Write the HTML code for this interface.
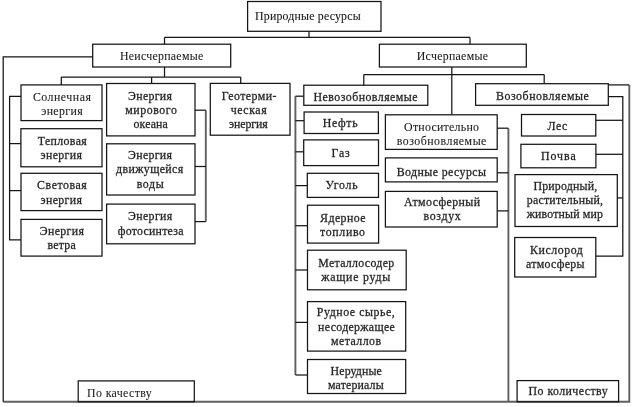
<!DOCTYPE html><html><head><meta charset="utf-8"><style>html,body{margin:0;padding:0;background:#fff;}svg{display:block;filter:blur(0.35px);}text{font-family:"Liberation Serif",serif;fill:#151515;}</style></head><body>
<svg width="636" height="407" viewBox="0 0 636 407">
<rect x="0" y="0" width="636" height="407" fill="#fff"/>
<g fill="none" stroke="#606060" stroke-width="1.9">
<polyline points="3.2,401.8 629.3,401.8 629.3,84.9"/>
<polyline points="295.4,96.2 295.4,375"/>
<polyline points="508.4,128.2 508.4,401.8"/>
<polyline points="205.8,110.2 205.8,221.6"/>
</g>
<g fill="none" stroke="#151515" stroke-width="1.25" stroke-linejoin="miter">
<polyline points="164.5,37.4 470,37.4"/>
<polyline points="309,31.3 309,37.4"/>
<polyline points="164.5,37.4 164.5,44.2"/>
<polyline points="470,37.4 470,44.3"/>
<polyline points="92.7,56.9 3.2,56.9 3.2,401.8"/>
<polyline points="629.3,84.9 608.3,84.9"/>
<polyline points="164.5,67 164.5,77"/>
<polyline points="61.3,77 240.7,77"/>
<polyline points="61.3,77 61.3,84.9"/>
<polyline points="151.6,77 151.6,83.5"/>
<polyline points="240.7,77 240.7,83.4"/>
<polyline points="21,96.4 9.6,96.4 9.6,239.8 21,239.8"/>
<polyline points="9.6,143.6 20.9,143.6"/>
<polyline points="9.6,190.6 21,190.6"/>
<polyline points="195,110.2 205.8,110.2"/>
<polyline points="205.8,221.6 195,221.6"/>
<polyline points="195,166.5 205.8,166.5"/>
<polyline points="451.8,67 451.8,114.8"/>
<polyline points="363.8,74.6 544.2,74.6"/>
<polyline points="363.8,74.6 363.8,85.3"/>
<polyline points="544.2,74.6 544.2,83.8"/>
<polyline points="303.8,96.2 295.4,96.2"/>
<polyline points="295.4,375 307.5,375"/>
<polyline points="295.4,120.7 304.1,120.7"/>
<polyline points="295.4,151.8 303.7,151.8"/>
<polyline points="295.4,185.6 307.3,185.6"/>
<polyline points="295.4,225.7 307.5,225.7"/>
<polyline points="295.4,270 307.5,270"/>
<polyline points="295.4,322.4 307.5,322.4"/>
<polyline points="497.2,128.2 508.4,128.2"/>
<polyline points="497.2,172.8 508.4,172.8"/>
<polyline points="497.2,210.9 508.4,210.9"/>
<polyline points="608.3,96.5 622.8,96.5 622.8,256 595.8,256"/>
<polyline points="595.8,120.3 622.8,120.3"/>
<polyline points="595.9,154.3 622.8,154.3"/>
<polyline points="617.3,197.9 622.8,197.9"/>
<rect x="247.6" y="1.5" width="133.40" height="29.80"/>
<rect x="92.7" y="44.2" width="138.00" height="22.80"/>
<rect x="379.4" y="44.2" width="146.90" height="22.80"/>
<rect x="21" y="84.9" width="81.00" height="35.70"/>
<rect x="20.9" y="128.7" width="81.10" height="38.10"/>
<rect x="21" y="173.3" width="81.00" height="37.30"/>
<rect x="21" y="219.4" width="81.00" height="36.70"/>
<rect x="106.6" y="83.5" width="88.40" height="52.40"/>
<rect x="106.6" y="143.8" width="88.40" height="51.20"/>
<rect x="106.6" y="204.1" width="88.40" height="39.70"/>
<rect x="210.3" y="83.4" width="79.70" height="51.80"/>
<rect x="303.8" y="85.2" width="124.00" height="20.10"/>
<rect x="304.1" y="112" width="74.30" height="21.50"/>
<rect x="303.7" y="139.9" width="74.80" height="25.70"/>
<rect x="307.3" y="173.3" width="71.20" height="24.10"/>
<rect x="307.5" y="205.2" width="71.10" height="37.90"/>
<rect x="307.5" y="250.2" width="98.70" height="39.60"/>
<rect x="307.5" y="301.6" width="98.20" height="49.50"/>
<rect x="307.5" y="359.5" width="98.20" height="34.00"/>
<rect x="385.4" y="114.8" width="111.80" height="34.60"/>
<rect x="385.4" y="157.9" width="111.80" height="24.00"/>
<rect x="385.4" y="191.4" width="111.80" height="35.60"/>
<rect x="475.6" y="83.7" width="132.70" height="21.60"/>
<rect x="521.5" y="114.5" width="74.30" height="21.50"/>
<rect x="520.9" y="144.3" width="75.00" height="23.50"/>
<rect x="515" y="174.6" width="102.30" height="51.90"/>
<rect x="514.7" y="237.5" width="81.10" height="39.50"/>
<rect x="78.2" y="380.9" width="116.10" height="20.90"/>
<rect x="517.1" y="380.6" width="101.50" height="21.20"/>
</g>
<g font-size="13.2" text-anchor="middle" stroke="#333" stroke-width="0.3">
<text transform="translate(307.85,19.7) scale(0.9,1)" textLength="117.44" lengthAdjust="spacing" stroke-width="0.12">Природные ресурсы</text>
<text transform="translate(161.60,60) scale(0.9,1)" textLength="92.44" lengthAdjust="spacing" stroke-width="0.08">Неисчерпаемые</text>
<text transform="translate(452.35,60) scale(0.9,1)" textLength="79.22" lengthAdjust="spacing" stroke-width="0.08">Исчерпаемые</text>
<text transform="translate(61.90,100.7) scale(0.9,1)" textLength="64.44" lengthAdjust="spacing" stroke-width="0.1">Солнечная</text>
<text transform="translate(61.90,114.5) scale(0.9,1)" textLength="46.00" lengthAdjust="spacing" stroke-width="0.1">энергия</text>
<text transform="translate(62.25,144.7) scale(0.9,1)" textLength="54.56" lengthAdjust="spacing">Тепловая</text>
<text transform="translate(61.20,159.2) scale(0.9,1)" textLength="46.00" lengthAdjust="spacing">энергия</text>
<text transform="translate(61.95,189.1) scale(0.9,1)" textLength="55.22" lengthAdjust="spacing">Световая</text>
<text transform="translate(61.20,203.9) scale(0.9,1)" textLength="46.00" lengthAdjust="spacing">энергия</text>
<text transform="translate(61.90,235.4) scale(0.9,1)" textLength="49.11" lengthAdjust="spacing">Энергия</text>
<text transform="translate(61.55,249.3) scale(0.9,1)" textLength="31.44" lengthAdjust="spacing">ветра</text>
<text transform="translate(150.05,99.8) scale(0.9,1)" textLength="48.78" lengthAdjust="spacing">Энергия</text>
<text transform="translate(151.05,113.8) scale(0.9,1)" textLength="57.44" lengthAdjust="spacing">мирового</text>
<text transform="translate(150.65,128.4) scale(0.9,1)" textLength="38.33" lengthAdjust="spacing">океана</text>
<text transform="translate(150.05,159) scale(0.9,1)" textLength="48.78" lengthAdjust="spacing">Энергия</text>
<text transform="translate(149.65,173) scale(0.9,1)" textLength="74.56" lengthAdjust="spacing">движущейся</text>
<text transform="translate(150.20,187.9) scale(0.9,1)" textLength="30.00" lengthAdjust="spacing">воды</text>
<text transform="translate(150.20,220.1) scale(0.9,1)" textLength="49.11" lengthAdjust="spacing">Энергия</text>
<text transform="translate(150.60,235) scale(0.9,1)" textLength="73.11" lengthAdjust="spacing">фотосинтеза</text>
<text transform="translate(249.15,99.9) scale(0.9,1)" textLength="61.00" lengthAdjust="spacing">Геотерми-</text>
<text transform="translate(248.65,114.2) scale(0.9,1)" textLength="39.89" lengthAdjust="spacing">ческая</text>
<text transform="translate(248.35,128.3) scale(0.9,1)" textLength="43.00" lengthAdjust="spacing">энергия</text>
<text transform="translate(365.50,100.8) scale(0.9,1)" textLength="115.56" lengthAdjust="spacing">Невозобновляемые</text>
<text transform="translate(340.15,126.7) scale(0.9,1)" textLength="38.78" lengthAdjust="spacing">Нефть</text>
<text transform="translate(340.60,157.4) scale(0.9,1)" textLength="20.22" lengthAdjust="spacing">Газ</text>
<text transform="translate(341.65,189.3) scale(0.9,1)" textLength="35.67" lengthAdjust="spacing">Уголь</text>
<text transform="translate(342.80,222.2) scale(0.9,1)" textLength="50.44" lengthAdjust="spacing">Ядерное</text>
<text transform="translate(342.55,236.2) scale(0.9,1)" textLength="49.89" lengthAdjust="spacing">топливо</text>
<text transform="translate(356.20,266.6) scale(0.9,1)" textLength="84.44" lengthAdjust="spacing">Металлосодер</text>
<text transform="translate(355.70,281.1) scale(0.9,1)" textLength="76.67" lengthAdjust="spacing">жащие руды</text>
<text transform="translate(355.80,316.2) scale(0.9,1)" textLength="86.67" lengthAdjust="spacing">Рудное сырье,</text>
<text transform="translate(356.45,330.6) scale(0.9,1)" textLength="85.22" lengthAdjust="spacing">несодержащее</text>
<text transform="translate(356.05,344.5) scale(0.9,1)" textLength="55.67" lengthAdjust="spacing">металлов</text>
<text transform="translate(356.20,375.4) scale(0.9,1)" textLength="57.11" lengthAdjust="spacing">Нерудные</text>
<text transform="translate(355.80,389.2) scale(0.9,1)" textLength="62.00" lengthAdjust="spacing">материалы</text>
<text transform="translate(441.55,131.3) scale(0.9,1)" textLength="83.22" lengthAdjust="spacing" stroke-width="0.1">Относительно</text>
<text transform="translate(441.55,144.5) scale(0.9,1)" textLength="99.67" lengthAdjust="spacing" stroke-width="0.1">возобновляемые</text>
<text transform="translate(441.35,175.5) scale(0.9,1)" textLength="99.22" lengthAdjust="spacing">Водные ресурсы</text>
<text transform="translate(442.10,206.2) scale(0.9,1)" textLength="84.44" lengthAdjust="spacing">Атмосферный</text>
<text transform="translate(442.10,220.1) scale(0.9,1)" textLength="41.33" lengthAdjust="spacing">воздух</text>
<text transform="translate(542.40,100) scale(0.9,1)" textLength="103.33" lengthAdjust="spacing">Возобновляемые</text>
<text transform="translate(557.45,130.2) scale(0.9,1)" textLength="22.11" lengthAdjust="spacing">Лес</text>
<text transform="translate(558.35,160.1) scale(0.9,1)" textLength="38.78" lengthAdjust="spacing">Почва</text>
<text transform="translate(565.35,190.4) scale(0.9,1)" textLength="71.00" lengthAdjust="spacing">Природный,</text>
<text transform="translate(564.85,204) scale(0.9,1)" textLength="84.78" lengthAdjust="spacing">растительный,</text>
<text transform="translate(564.85,218.2) scale(0.9,1)" textLength="84.78" lengthAdjust="spacing">животный мир</text>
<text transform="translate(556.50,254.2) scale(0.9,1)" textLength="58.67" lengthAdjust="spacing">Кислород</text>
<text transform="translate(555.30,268.2) scale(0.9,1)" textLength="64.89" lengthAdjust="spacing">атмосферы</text>
<text transform="translate(119.40,397) scale(0.9,1)" textLength="71.78" lengthAdjust="spacing" stroke-width="0.05">По качеству</text>
<text transform="translate(568.15,395.2) scale(0.9,1)" textLength="87.89" lengthAdjust="spacing">По количеству</text>
</g>
</svg></body></html>
